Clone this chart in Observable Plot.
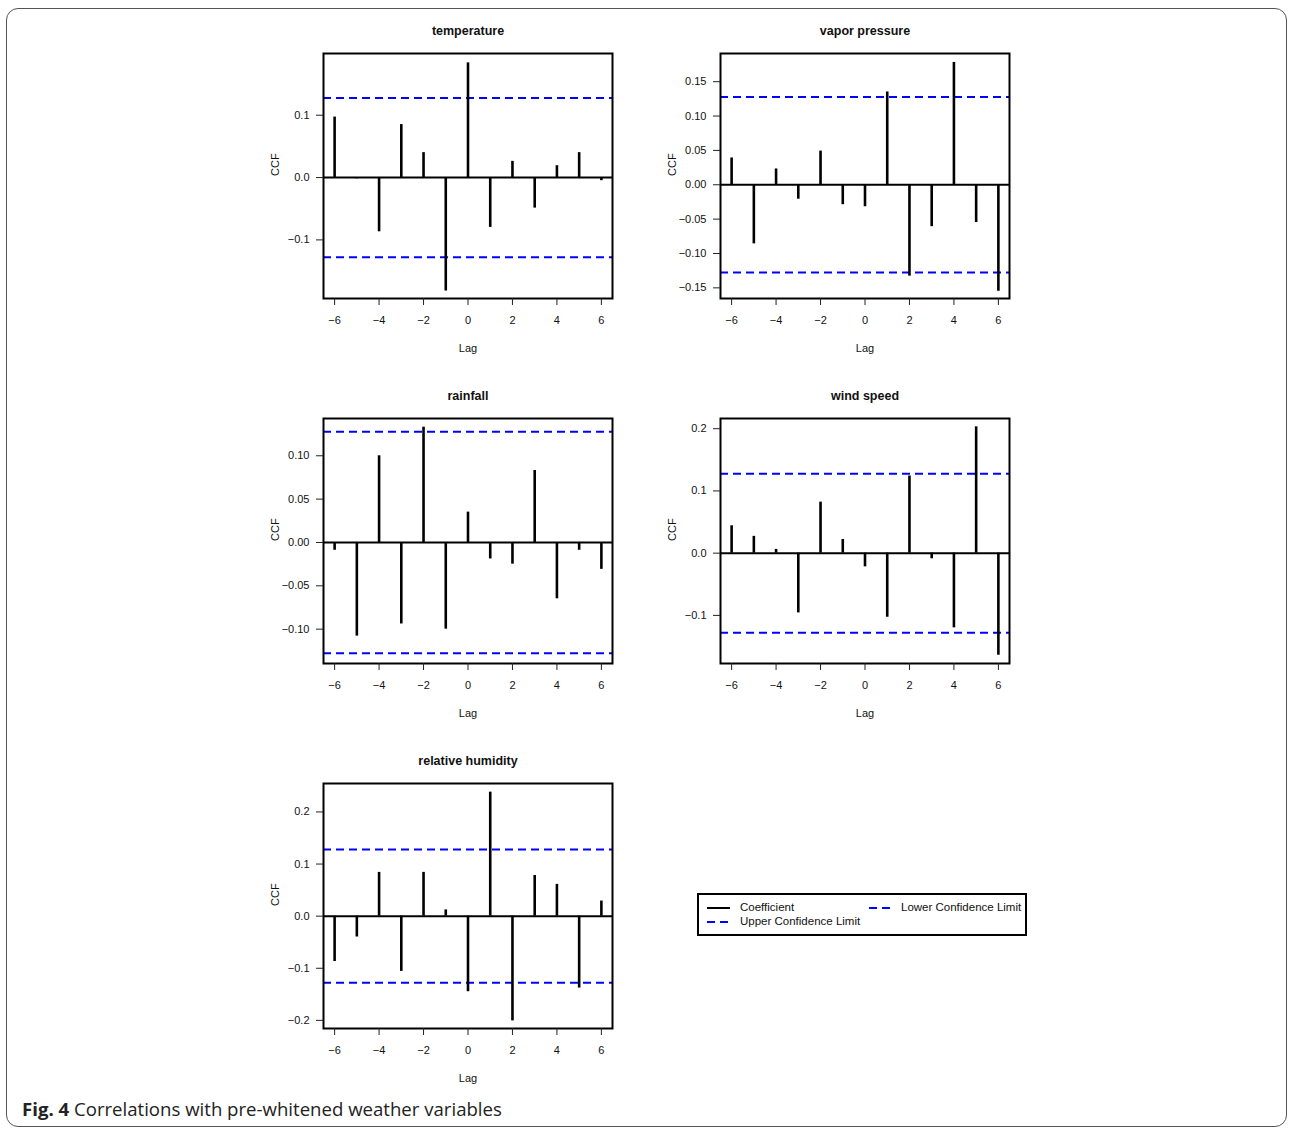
<!DOCTYPE html>
<html>
<head>
<meta charset="utf-8">
<script src="https://cdn.jsdelivr.net/npm/d3@7"></script>
<script src="https://cdn.jsdelivr.net/npm/@observablehq/plot@0.6"></script>
<style>
  html, body { margin: 0; padding: 0; background: white; }
  #root { position: relative; width: 1290px; height: 1128px; overflow: hidden; font-family: "Liberation Sans", Arial, sans-serif; }
  #border { position: absolute; left: 6px; top: 8px; width: 1281px; height: 1119px; border: 1px solid #555; border-radius: 12px; box-sizing: border-box; }
  .panel { position: absolute; }
  #legend { position: absolute; left: 697px; top: 893px; width: 330px; height: 43px; border: 2px solid black; box-sizing: border-box; background: white; font-size: 11.5px; color: #111; }
  #legend svg { position: absolute; left: 0; top: 0; }
  #legend span { position: absolute; white-space: nowrap; line-height: 13px; }
  #caption { position: absolute; left: 22px; top: 1096px; font-family: "Open Sans", sans-serif; font-size: 18.6px; color: #222; white-space: nowrap; }
</style>
</head>
<body>
<div id="root">
  <div id="border"></div>
  <div id="legend">
    <svg width="330" height="43">
      <line x1="8" x2="31" y1="13" y2="13" stroke="black" stroke-width="2"></line>
      <line x1="8" x2="31" y1="27" y2="27" stroke="blue" stroke-width="2" stroke-dasharray="8,5"></line>
      <line x1="170" x2="193" y1="13" y2="13" stroke="blue" stroke-width="2" stroke-dasharray="8,5"></line>
    </svg>
    <span style="left:41px; top:6px;">Coefficient</span>
    <span style="left:41px; top:20px;">Upper Confidence Limit</span>
    <span style="left:202px; top:6px;">Lower Confidence Limit</span>
  </div>
  <div id="caption"><b>Fig. 4</b> Correlations with pre-whitened weather variables</div>
</div>
<script>
// Data
const lags = [-6, -5, -4, -3, -2, -1, 0, 1, 2, 3, 4, 5, 6];
const temperature = [0.097, -0.002, -0.087, 0.085, 0.040, -0.182, 0.184, -0.080, 0.026, -0.049, 0.019, 0.040, -0.005];
const vaporPressure = [0.039, -0.086, 0.023, -0.021, 0.049, -0.029, -0.032, 0.135, -0.133, -0.061, 0.178, -0.055, -0.155];
const rainfall = [-0.009, -0.108, 0.100, -0.094, 0.133, -0.100, 0.035, -0.019, -0.025, 0.083, -0.065, -0.009, -0.031];
const windSpeed = [0.044, 0.027, 0.006, -0.096, 0.082, 0.022, -0.022, -0.103, 0.124, -0.009, -0.120, 0.203, -0.164];
const relativeHumidity = [-0.087, -0.040, 0.084, -0.106, 0.084, 0.012, -0.145, 0.238, -0.201, 0.078, 0.061, -0.138, 0.029];
const confLimit = 0.1277;
const xTicks = [-6, -4, -2, 0, 2, 4, 6];

const panels = [
  {title: "temperature", values: temperature, yDomain: [-0.194, 0.199], yTicks: [-0.1, 0, 0.1], fmt: ".1f", L: 323, T: 53},
  {title: "vapor pressure", values: vaporPressure, yDomain: [-0.1655, 0.191], yTicks: [-0.15, -0.1, -0.05, 0, 0.05, 0.1, 0.15], fmt: ".2f", L: 720, T: 53},
  {title: "rainfall", values: rainfall, yDomain: [-0.1396, 0.143], yTicks: [-0.1, -0.05, 0, 0.05, 0.1], fmt: ".2f", L: 323, T: 418},
  {title: "wind speed", values: windSpeed, yDomain: [-0.1773, 0.2164], yTicks: [-0.1, 0, 0.1, 0.2], fmt: ".1f", L: 720, T: 418},
  {title: "relative humidity", values: relativeHumidity, yDomain: [-0.2156, 0.2546], yTicks: [-0.2, -0.1, 0, 0.1, 0.2], fmt: ".1f", L: 323, T: 783}
];

const mL = 70, mT = 40, mR = 15, mB = 65, fw = 289, fh = 245;
const root = document.getElementById("root");

for (const p of panels) {
  const data = lags.map((lag, i) => ({lag, v: p.values[i]}));
  const chart = Plot.plot({
    width: mL + fw + mR,
    height: mT + fh + mB,
    marginLeft: mL, marginTop: mT, marginRight: mR, marginBottom: mB,
    style: {fontFamily: "'Liberation Sans', Arial, sans-serif", fontSize: "11px", color: "#111", background: "transparent", overflow: "visible"},
    x: {domain: [-6.5, 6.5]},
    y: {domain: p.yDomain},
    marks: [
      Plot.ruleY([confLimit, -confLimit], {stroke: "blue", strokeWidth: 2, strokeDasharray: "8,5"}),
      Plot.ruleY([0], {stroke: "black", strokeWidth: 2}),
      Plot.ruleX(data, {x: "lag", y1: 0, y2: "v", stroke: "black", strokeWidth: 2.6}),
      Plot.frame({stroke: "black", strokeWidth: 2}),
      Plot.axisX({ticks: xTicks, tickSize: 7, tickPadding: 11, tickFormat: d3.format("d"), label: null, stroke: "#222"}),
      Plot.axisY({ticks: p.yTicks, tickSize: 7, tickPadding: 7, tickFormat: d3.format(p.fmt), label: null, stroke: "#222"}),
      Plot.text([p.title], {text: d => d, frameAnchor: "top", lineAnchor: "middle", dy: -23, fontWeight: "bold", fontSize: 12.5}),
      Plot.text(["Lag"], {text: d => d, frameAnchor: "bottom", lineAnchor: "middle", dy: 50}),
      Plot.text(["CCF"], {text: d => d, frameAnchor: "left", dx: -48, rotate: -90})
    ]
  });
  chart.classList.add("panel");
  chart.style.left = (p.L - mL) + "px";
  chart.style.top = (p.T - mT) + "px";
  chart.style.position = "absolute";
  root.appendChild(chart);
}
</script>
</body>
</html>
